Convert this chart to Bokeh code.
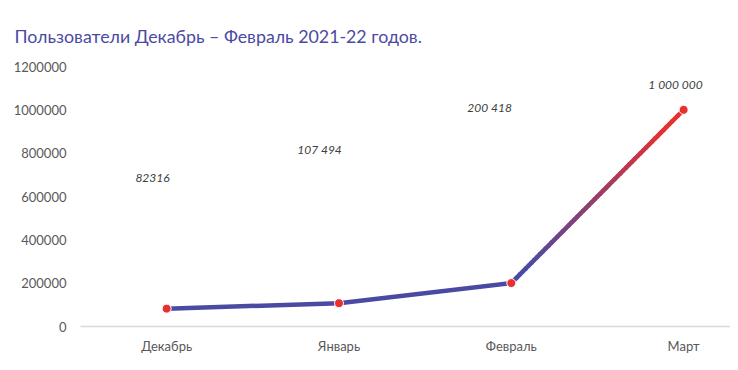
import numpy as np
from bokeh.plotting import figure
from bokeh.models import Range1d, FixedTicker, BasicTickFormatter, ColumnDataSource
from bokeh.core.properties import value
from bokeh.embed import file_html
from bokeh.resources import INLINE

# ---- data ----
months = ["Декабрь", "Январь", "Февраль", "Март"]
users = [82316, 107494, 200418, 1000000]
user_labels = ["82316", "107 494", "200 418", "1 000 000"]
y_ticks = [0, 200000, 400000, 600000, 800000, 1000000, 1200000]
title_text = "Пользователи Декабрь – Февраль 2021-22 годов."

BLUE = "#4b4aa3"
RED = "#e8302f"
FONT = "Lato"

x = [i + 0.5 for i in range(len(months))]

p = figure(width=730, height=356, output_backend="svg", toolbar_location=None,
           x_range=Range1d(0, 3.772), y_range=Range1d(0, 1200000),
           min_border_left=80, min_border_right=0, min_border_bottom=0,
           min_border_top=66)
p.outline_line_color = None
p.xgrid.visible = False
p.ygrid.visible = False

p.title.text = title_text
p.title.text_font = FONT
p.title.text_font_size = "17.8px"
p.title.text_font_style = "normal"
p.title.text_color = BLUE
p.title.offset = -66
p.title.standoff = 40

# y axis
p.yaxis.ticker = FixedTicker(ticks=y_ticks)
p.yaxis.formatter = BasicTickFormatter(use_scientific=False)
p.yaxis.axis_line_color = None
p.yaxis.major_tick_line_color = None
p.yaxis.minor_tick_line_color = None
p.yaxis.major_tick_out = 0
p.yaxis.major_label_standoff = 14
p.yaxis.major_label_text_font = FONT
p.yaxis.major_label_text_font_size = "13px"
p.yaxis.major_label_text_color = "#595959"

# x axis
p.xaxis.ticker = FixedTicker(ticks=x)
p.xaxis.major_label_overrides = {xi: m for xi, m in zip(x, months)}
p.xaxis.axis_line_color = "#d9d9d9"
p.xaxis.axis_line_width = 1.5
p.xaxis.major_tick_line_color = None
p.xaxis.minor_tick_line_color = None
p.xaxis.major_tick_out = 0
p.xaxis.major_label_standoff = 11
p.xaxis.major_label_text_font = FONT
p.xaxis.major_label_text_font_size = "13px"
p.xaxis.major_label_text_color = "#595959"

# line: first segments solid blue
p.line(x[:3], users[:3], line_color=BLUE, line_width=4.5, line_cap="round", line_join="round")

# last segment with blue -> red gradient (styling only)
n = 60
t = np.linspace(0, 1, n + 1)
xs = x[2] + (x[3] - x[2]) * t
ys = users[2] + (users[3] - users[2]) * t
c0 = np.array([0x4b, 0x4a, 0xa3], dtype=float)
c1 = np.array([0xe8, 0x30, 0x2f], dtype=float)
cols = []
for k in range(n):
    f = (k + 0.5) / n
    f = min(max((f - 0.1) / 0.8, 0), 1)
    c = c0 + (c1 - c0) * f
    cols.append("#%02x%02x%02x" % tuple(int(round(v)) for v in c))
p.segment(xs[:-1], ys[:-1], xs[1:], ys[1:], line_color=cols, line_width=4.5, line_cap="round")

# points
p.scatter(x, users, size=9, fill_color=RED, line_color="white", line_width=1)

# data labels (positions in data space, as placed in the reference)
label_x = [0.418, 1.387, 2.374, 3.453]
label_y = [685000, 819000, 1009000, 1116000]
src = ColumnDataSource(dict(x=label_x, y=label_y, t=user_labels))
p.text("x", "y", text="t", source=src, text_align="center", text_baseline="middle",
       text_font=value(FONT), text_font_size="12px", text_font_style="italic",
       text_color="#404040")

open("out.html", "w").write(file_html(p, INLINE))
